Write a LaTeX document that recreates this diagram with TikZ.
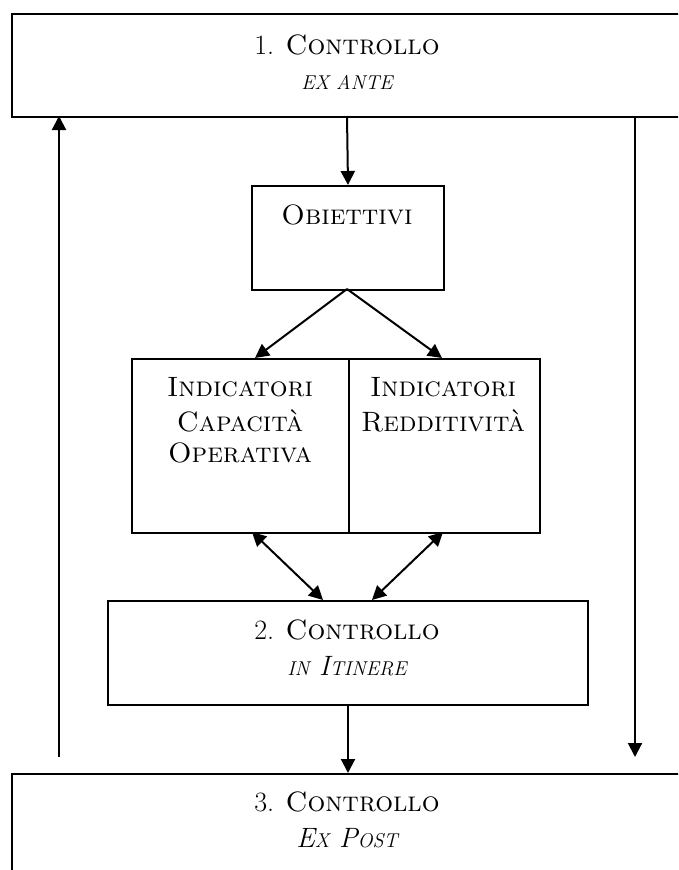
\documentclass[tikz,border=0pt]{standalone}
\usetikzlibrary{arrows.meta}
\newcommand{\fakesc}[1]{{\fontsize{20}{22}\selectfont #1}}
\begin{document}
\begin{tikzpicture}[x=1pt,y=-1pt,line width=2pt,
  boxline/.style={draw=black,line width=2pt,inner sep=0pt,anchor=north west},
  lbl/.style={inner sep=0pt,font=\fontsize{28}{32}\selectfont},
  arr/.style={line width=2pt,-{Triangle[length=14pt,width=14pt]}},
  darr/.style={line width=2pt,{Triangle[length=14pt,width=14pt]}-{Triangle[length=14pt,width=14pt]}}]
\useasboundingbox (0,0) rectangle (678,870);
\clip (0,0) rectangle (678,870);
\fill[white] (0,0) rectangle (678,870);
% boxes
\node[boxline,minimum width=689pt,minimum height=103pt] (b1) at (11,13) {};
\node[boxline,minimum width=192pt,minimum height=104pt] (obj) at (251,185) {};
\node[boxline,minimum width=217pt,minimum height=174pt] (il) at (131,358) {};
\node[boxline,minimum width=191pt,minimum height=174pt] (ir) at (348,358) {};
\node[boxline,minimum width=480pt,minimum height=104pt] (b2) at (107,600) {};
\node[boxline,minimum width=689pt,minimum height=140pt] (b3) at (11,773) {};
% texts
\node[lbl] (t1a) at (347,45) {1. \textsc{Controllo}};
\node[lbl] (t1b) at (347,82) {\itshape\fakesc{EX ANTE}};
\node[lbl] (tobj) at (347,215) {\textsc{Obiettivi}};
\node[lbl] (tila) at (240,387) {\textsc{Indicatori}};
\node[lbl] (tilb) at (240,421) {\textsc{Capacità}};
\node[lbl] (tilc) at (240,453) {\textsc{Operativa}};
\node[lbl] (tira) at (443,387) {\textsc{Indicatori}};
\node[lbl] (tirb) at (443,421) {\textsc{Redditività}};
\node[lbl] (t2a) at (347,630) {2. \textsc{Controllo}};
\node[lbl] (t2b) at (347,666) {\itshape\fakesc{IN} I\fakesc{TINERE}};
\node[lbl] (t3a) at (347,802) {3. \textsc{Controllo}};
\node[lbl] (t3b) at (347,838) {\itshape E\fakesc{X} P\fakesc{OST}};
% connector end points
\coordinate (b1c) at (347,116);
\coordinate (b1l) at (59,116);
\coordinate (b1r) at (635,116);
\coordinate (lft) at (59,757);
\coordinate (rgt) at (635,757);
\coordinate (objb) at (347,289);
\coordinate (ilt) at (255,358);
\coordinate (irt) at (442,358);
\coordinate (ilb) at (252,532);
\coordinate (irb) at (443,532);
\coordinate (b2l) at (323,600);
\coordinate (b2r) at (372,600);
% connectors
\draw[arr] (b1c) -- (obj.north);
\draw[arr] (objb) -- (ilt);
\draw[arr] (objb) -- (irt);
\draw[darr] (ilb) -- (b2l);
\draw[darr] (irb) -- (b2r);
\draw[arr] (b2.south) -- (b3.north -| b2.south);
\draw[arr] (lft) -- (b1l);
\draw[arr] (b1r) -- (rgt);
\end{tikzpicture}
\end{document}
